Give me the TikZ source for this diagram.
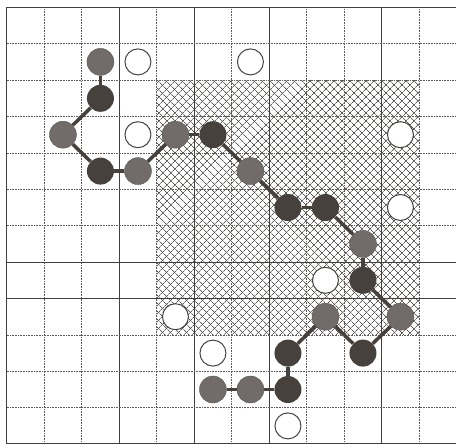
\documentclass[tikz,border=0pt]{standalone}
\usepackage{xcolor}
\usepackage{tikz}
\usetikzlibrary{patterns.meta}
\definecolor{beaddark}{HTML}{46413D}
\definecolor{beadgray}{HTML}{716C69}
\definecolor{gridgray}{HTML}{5E5A58}

\begin{document}
\begin{tikzpicture}[x=1pt, y=-1pt,
  dark/.style={circle, fill=beaddark, minimum size=27pt, inner sep=0pt},
  lite/.style={circle, fill=beadgray, draw=beadgray!80!black, line width=0.4pt, minimum size=27pt, inner sep=0pt},
  free/.style={circle, draw=beaddark, line width=1pt, fill=white, minimum size=26pt, inner sep=0pt},
  bond/.style={line width=3.5pt, beaddark},
  fine/.style={gridgray, line width=0.6pt, densely dotted},
  bold/.style={gridgray!70!black, line width=0.6pt}
]
\useasboundingbox (0,0) rectangle (456,445);
\fill[white] (0,0) rectangle (456,445);

% hatched block
\fill[pattern={Lines[angle=45,distance=5.4pt,line width=0.6pt]}, pattern color=gridgray]
  (156.7,80.1) rectangle (419.2,334.9);
\fill[pattern={Lines[angle=-45,distance=5.4pt,line width=0.6pt]}, pattern color=gridgray]
  (156.7,80.1) rectangle (419.2,334.9);

% grid
\foreach \i in {1,2,4,6,8,9,11}
  \draw[fine] ({6.7+37.5*\i},7.3) -- ({6.7+37.5*\i},443.7);
\foreach \i in {3,5,7,10}
  \draw[bold] ({6.7+37.5*\i},7.3) -- ({6.7+37.5*\i},443.7);
\foreach \j in {1,...,6,9,10,11}
  \draw[fine] (6.7,{7.3+36.4*\j}) -- (456,{7.3+36.4*\j});
\foreach \j in {7,8}
  \draw[bold] (6.7,{7.3+36.4*\j}) -- (456,{7.3+36.4*\j});
\draw[bold] (456,7.3) -- (6.7,7.3) -- (6.7,443.7) -- (456,443.7);

% chain
\foreach \col/\row/\kind [count=\n] in {2/1/lite, 2/2/dark, 1/3/lite, 2/4/dark, 3/4/lite,
    4/3/lite, 5/3/dark, 6/4/lite, 7/5/dark, 8/5/dark, 9/6/lite, 9/7/dark, 10/8/lite,
    9/9/dark, 8/8/lite, 7/9/dark, 7/10/dark, 6/10/lite, 5/10/lite}
  \node[\kind] (b\n) at ({6.7+37.5*(\col+.5)},{7.3+36.4*(\row+.5)}) {};
\foreach \n [evaluate=\n as \m using int(\n+1)] in {1,...,18}
  \draw[bond] (b\n) -- (b\m);

% empty sites
\foreach \col/\row [count=\n] in {3/1, 6/1, 3/3, 10/3, 10/5, 8/7, 4/8, 5/9, 7/11}
  \node[free] (w\n) at ({6.7+37.5*(\col+.5)},{7.3+36.4*(\row+.5)}) {};

\end{tikzpicture}
\end{document}
